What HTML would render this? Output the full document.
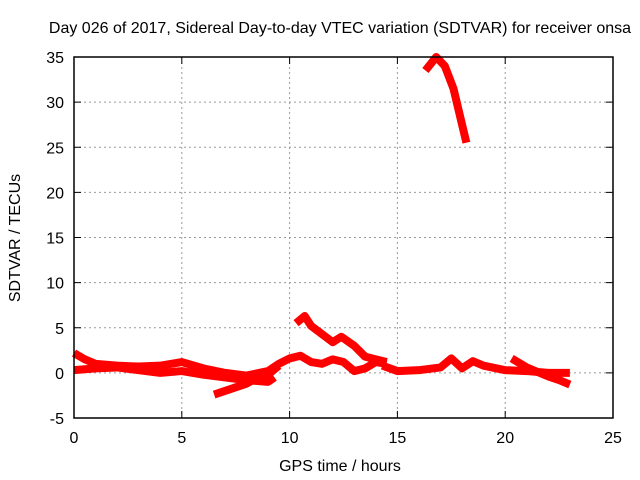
<!DOCTYPE html>
<html><head><meta charset="utf-8"><style>
body{margin:0;background:#fff}
svg{display:block;font-family:"Liberation Sans",sans-serif}
</style></head><body>
<svg id="chart" width="640" height="480" viewBox="0 0 640 480">
<text x="340" y="33" font-size="16" text-anchor="middle">Day 026 of 2017, Sidereal Day-to-day VTEC variation (SDTVAR) for receiver onsa</text>
<text x="340" y="471" font-size="16" text-anchor="middle">GPS time / hours</text>
<text transform="translate(20,238) rotate(-90)" font-size="16" text-anchor="middle">SDTVAR / TECUs</text>
<g id="grid"></g><g id="ticks"></g><g id="series"></g>
<rect x="74" y="57" width="539" height="361" fill="none" stroke="#000" stroke-width="1.5"/>
</svg>
<script>
const xTicks=[0,5,10,15,20,25];
const yTicks=[-5,0,5,10,15,20,25,30,35];
const track1T=[0,0.5,1,2,3,4,5,6,7,8,9,9.5,10,10.5,11,11.5,12,12.5,13,13.5,14,14.5];
const track1V=[2.2,1.5,1.0,0.8,0.7,0.8,1.2,0.5,0,-0.3,0.2,1.0,1.6,1.9,1.2,1.0,1.5,1.2,0.2,0.5,1.2,1.0];
const track2T=[0,1,2,3,4,5,6,7,8,9,9.3];
const track2V=[0.3,0.5,0.6,0.3,0,0.2,-0.2,-0.5,-0.8,-1,-0.5];
const track3T=[6.5,7,7.5,8,8.5,9,9.5];
const track3V=[-2.4,-2.0,-1.6,-1.2,-0.5,-0.2,0.8];
const track4T=[10.3,10.7,11,11.5,12,12.4,13,13.5,14,14.5];
const track4V=[5.5,6.3,5.2,4.3,3.4,4.0,3.0,1.8,1.5,1.2];
const track5T=[14.3,15,16,17,17.5,18,18.5,19,20,21,22,23];
const track5V=[0.8,0.2,0.3,0.6,1.6,0.5,1.3,0.8,0.3,0.2,0,0];
const track6T=[20.3,21,22,22.5,23];
const track6V=[1.6,0.6,-0.4,-0.8,-1.3];
const track7T=[16.3,16.8,17.2,17.6,18,18.2];
const track7V=[33.5,35,34,31.5,27.5,25.5];
const tracks=[[track1T,track1V],[track2T,track2V],[track3T,track3V],[track4T,track4V],[track5T,track5V],[track6T,track6V],[track7T,track7V]];
const X=t=>74+t*(539/25);
const Y=v=>418-(v+5)*(361/40);
const NS='http://www.w3.org/2000/svg';
const grid=document.getElementById('grid'),ticks=document.getElementById('ticks'),ser=document.getElementById('series');
function mk(tag,attrs,parent){const e=document.createElementNS(NS,tag);for(const k in attrs)e.setAttribute(k,attrs[k]);parent.appendChild(e);return e;}
xTicks.forEach(t=>{
  if(t>0&&t<25){const g=mk('line',{x1:X(t),x2:X(t),y1:57,y2:418,stroke:'#999','stroke-dasharray':'2,3'},grid);
  
  }
  const tk=mk('path',{d:`M${X(t)} 418v-7M${X(t)} 57v7`,stroke:'#000'},ticks);
  
  
  const l=mk('text',{x:X(t),y:443,'font-size':16,'text-anchor':'middle'},ticks);l.textContent=t;
  
  
});
yTicks.forEach(v=>{
  if(v>-5&&v<35){const g=mk('line',{x1:74,x2:613,y1:Y(v),y2:Y(v),stroke:'#999','stroke-dasharray':'2,3'},grid);
  
  }
  const tk=mk('path',{d:`M74 ${Y(v)}h7M613 ${Y(v)}h-7`,stroke:'#000'},ticks);
  
  
  const l=mk('text',{x:64,y:Y(v)+6,'font-size':16,'text-anchor':'end'},ticks);l.textContent=v;
  
  
});
tracks.forEach(([ts,vs])=>{
  const p=mk('polyline',{points:ts.map((t,i)=>X(t)+','+Y(vs[i])).join(' '),fill:'none',stroke:'#f00','stroke-width':8,'stroke-linejoin':'round'},ser);
  
  
});
</script>
</body></html>
